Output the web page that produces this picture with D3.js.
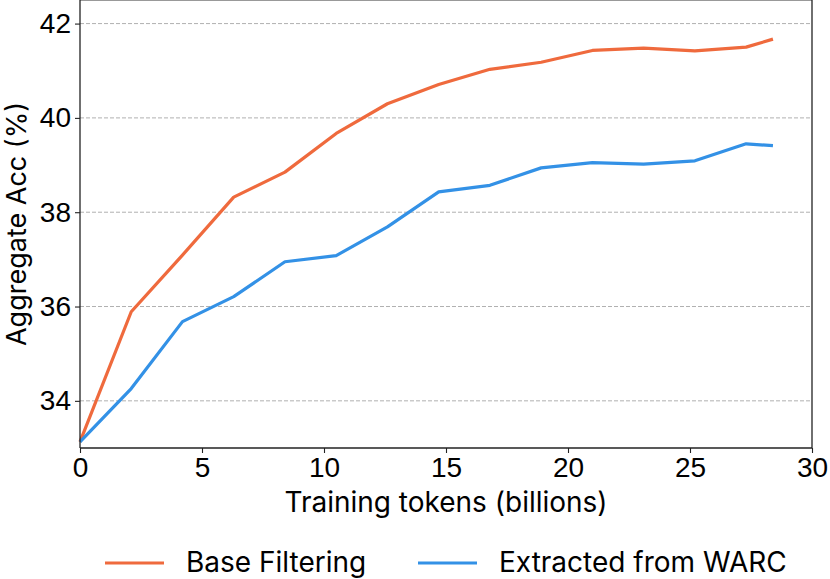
<!DOCTYPE html>
<html>
<head>
<meta charset="utf-8">
<script src="https://cdn.jsdelivr.net/npm/d3@7"></script>
<style>
  body { margin: 0; background: #fff; }
  svg { display: block; }
</style>
</head>
<body>
<div id="container"></div>
<script>
/* CONSTANTS AND GLOBALS */
const width = 830;
const height = 579;
const margin = { top: 0, right: 18, bottom: 131, left: 80 };

/* DATA */
const tokens = [0, 2.1, 4.2, 6.3, 8.4, 10.5, 12.6, 14.7, 16.8, 18.9, 21.0, 23.1, 25.2, 27.3, 28.4];
const baseFiltering = [33.13, 35.89, 37.09, 38.32, 38.85, 39.67, 40.30, 40.71, 41.03, 41.18, 41.43, 41.48, 41.42, 41.50, 41.67];
const extractedWarc = [33.13, 34.26, 35.68, 36.21, 36.95, 37.08, 37.69, 38.43, 38.57, 38.94, 39.05, 39.02, 39.09, 39.45, 39.41];
const seriesNames = ["Base Filtering", "Extracted from WARC"];
const seriesColors = ["#ef6a3d", "#3391e6"];
const xTicks = [0, 5, 10, 15, 20, 25, 30];
const yTicks = [34, 36, 38, 40, 42];

const series = [baseFiltering, extractedWarc].map((vals, i) => ({
  name: seriesNames[i],
  color: seriesColors[i],
  points: vals.map((v, j) => ({ x: tokens[j], y: v }))
}));

const svg = d3.select("#container")
  .append("svg")
  .attr("width", width)
  .attr("height", height);

/* SCALES */
const xScale = d3.scaleLinear()
  .domain([0, 30])
  .range([margin.left, width - margin.right]);

const yScale = d3.scaleLinear()
  .domain([33, 42.5])
  .range([height - margin.bottom, margin.top]);

// grid
svg.append("g")
  .selectAll("line")
  .data(yTicks)
  .join("line")
  .attr("x1", margin.left)
  .attr("x2", width - margin.right)
  .attr("y1", d => yScale(d))
  .attr("y2", d => yScale(d))
  .attr("stroke", "#b0b0b0")
  .attr("stroke-width", 1)
  .attr("stroke-dasharray", "4,2");

// lines
const line = d3.line()
  .x(d => xScale(d.x))
  .y(d => yScale(d.y));

svg.selectAll(".series")
  .data(series)
  .join("path")
  .attr("class", "series")
  .attr("fill", "none")
  .attr("stroke", d => d.color)
  .attr("stroke-width", 3.2)
  .attr("stroke-linejoin", "round")
  .attr("d", d => line(d.points));

// spines
const x0 = margin.left, x1 = width - margin.right;
const y0 = margin.top, y1 = height - margin.bottom;
svg.append("line").attr("x1", x0).attr("x2", x1).attr("y1", y0 + 0.5).attr("y2", y0 + 0.5)
  .attr("stroke", "#999").attr("stroke-width", 1);
svg.append("line").attr("x1", x1).attr("x2", x1).attr("y1", y0).attr("y2", y1)
  .attr("stroke", "#222").attr("stroke-width", 1.3);

/* AXES */
const xAxis = d3.axisBottom(xScale).tickValues(xTicks).tickSize(5).tickPadding(4);
const gx = svg.append("g")
  .attr("transform", `translate(0, ${y1})`)
  .call(xAxis);

const yAxis = d3.axisLeft(yScale).tickValues(yTicks).tickSize(5).tickPadding(4);
const gy = svg.append("g")
  .attr("transform", `translate(${x0}, 0)`)
  .call(yAxis);

[gx, gy].forEach(g => {
  g.select(".domain").attr("stroke", "#222").attr("stroke-width", 1.3);
  g.selectAll(".tick line").attr("stroke", "#222").attr("stroke-width", 1.1);
  g.selectAll(".tick text")
    .attr("fill", "#000")
    .style("font-family", "'Liberation Sans', Arial, sans-serif")
    .style("font-size", "28px");
});
gy.select(".domain").attr("d", `M-0,${y1}V${y0}`);
gx.select(".domain").attr("d", `M${x0},0H${x1}`);

// axis labels
svg.append("text")
  .attr("x", (x0 + x1) / 2)
  .attr("y", 512)
  .attr("text-anchor", "middle")
  .style("font-family", "Inter, sans-serif")
  .style("font-size", "28px")
  .text("Training tokens (billions)");

svg.append("text")
  .attr("transform", `translate(26, ${(y0 + y1) / 2}) rotate(-90)`)
  .attr("text-anchor", "middle")
  .style("font-family", "Inter, sans-serif")
  .style("font-size", "27px")
  .text("Aggregate Acc (%)");

/* LEGEND */
const legendX = [105, 418];
const legend = svg.selectAll(".legend")
  .data(series)
  .join("g")
  .attr("class", "legend")
  .attr("transform", (d, i) => `translate(${legendX[i]}, 563)`);

legend.append("line")
  .attr("x1", 0).attr("x2", 59)
  .attr("stroke", d => d.color)
  .attr("stroke-width", 3.2);

legend.append("text")
  .attr("x", 81)
  .attr("y", 9)
  .style("font-family", "Inter, sans-serif")
  .style("font-size", "28px")
  .text(d => d.name);
</script>
</body>
</html>
